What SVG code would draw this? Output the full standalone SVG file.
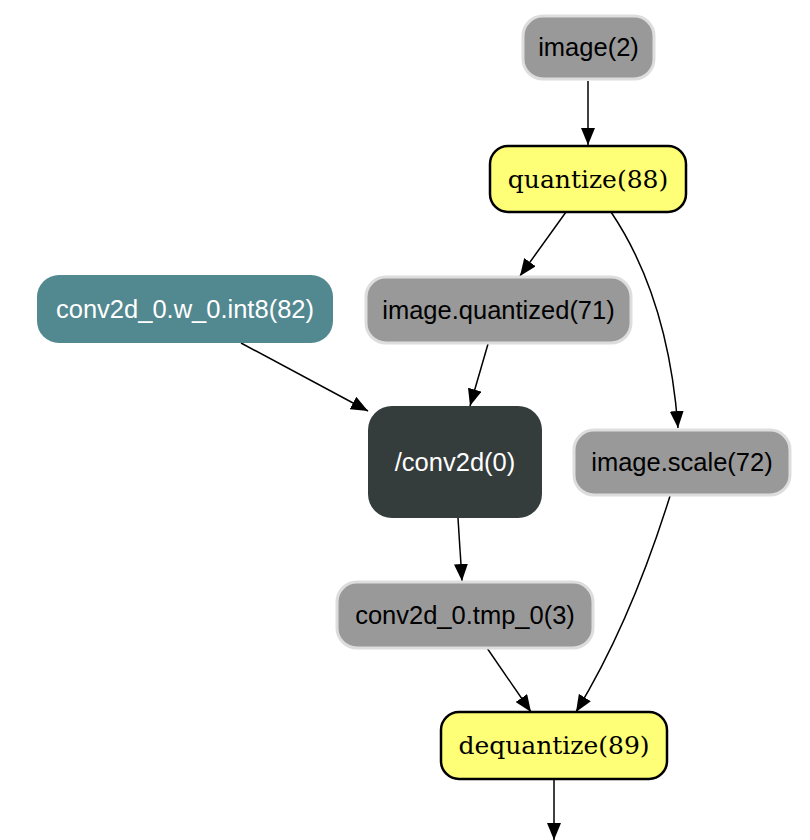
<svg xmlns="http://www.w3.org/2000/svg" width="810" height="840" viewBox="0 0 810 840">
<style>
.var rect{fill:#999999;stroke:#dddddd;stroke-width:3}
.op rect{fill:#ffff77;stroke:#000000;stroke-width:2.5}
.sans{font-family:"Liberation Sans",Arial,sans-serif;font-size:25.5px;text-anchor:middle}
.serif{font-family:"DejaVu Serif","Liberation Serif",serif;font-size:25px;text-anchor:middle;fill:#000}
.edge{fill:none;stroke:#000;stroke-width:1.5}
</style>
<defs>
<marker id="ah" markerUnits="userSpaceOnUse" markerWidth="18" markerHeight="14" refX="17" refY="7" orient="auto">
<path d="M0,0 L17,7 L0,14 Z" fill="#000"/>
</marker>
</defs>
<rect width="810" height="840" fill="#fff"/>
<g id="edges">
<path class="edge" d="M588,81 L588,145" marker-end="url(#ah)"/>
<path class="edge" d="M566,212 L520,276" marker-end="url(#ah)"/>
<path class="edge" d="M611,212 C640,255 670,320 678,428" marker-end="url(#ah)"/>
<path class="edge" d="M241,343 L368,411" marker-end="url(#ah)"/>
<path class="edge" d="M488,344 L470,406" marker-end="url(#ah)"/>
<path class="edge" d="M458,518 L462,581" marker-end="url(#ah)"/>
<path class="edge" d="M487,648 L531,712" marker-end="url(#ah)"/>
<path class="edge" d="M670,496 C650,560 620,640 576,712" marker-end="url(#ah)"/>
<path class="edge" d="M554,780 L554,840" marker-end="url(#ah)"/>
</g>
<g id="image2" class="var">
<rect x="523" y="16" width="131" height="63" rx="20"/>
<text class="sans" x="588.5" y="56">image(2)</text>
</g>
<g id="quantize88" class="op">
<rect x="490" y="146" width="196" height="66" rx="18"/>
<text class="serif" x="588" y="188">quantize(88)</text>
</g>
<g id="w_int8" >
<rect x="37" y="275" width="296" height="68" rx="22" fill="#52888f"/>
<text class="sans" x="185" y="318" fill="#ffffff">conv2d_0.w_0.int8(82)</text>
</g>
<g id="image_quantized" class="var">
<rect x="366" y="277" width="265" height="66" rx="20"/>
<text class="sans" x="498.5" y="319">image.quantized(71)</text>
</g>
<g id="conv2d0">
<rect x="368" y="406" width="174" height="112" rx="24" fill="#343c3c"/>
<text class="sans" x="455" y="471" fill="#ffffff">/conv2d(0)</text>
</g>
<g id="image_scale" class="var">
<rect x="574" y="430" width="216" height="65" rx="20"/>
<text class="sans" x="682" y="471">image.scale(72)</text>
</g>
<g id="tmp0" class="var">
<rect x="337" y="582" width="256" height="66" rx="20"/>
<text class="sans" x="465" y="624">conv2d_0.tmp_0(3)</text>
</g>
<g id="dequantize89" class="op">
<rect x="441" y="712" width="226" height="67" rx="18"/>
<text class="serif" x="554" y="754">dequantize(89)</text>
</g>
</svg>
